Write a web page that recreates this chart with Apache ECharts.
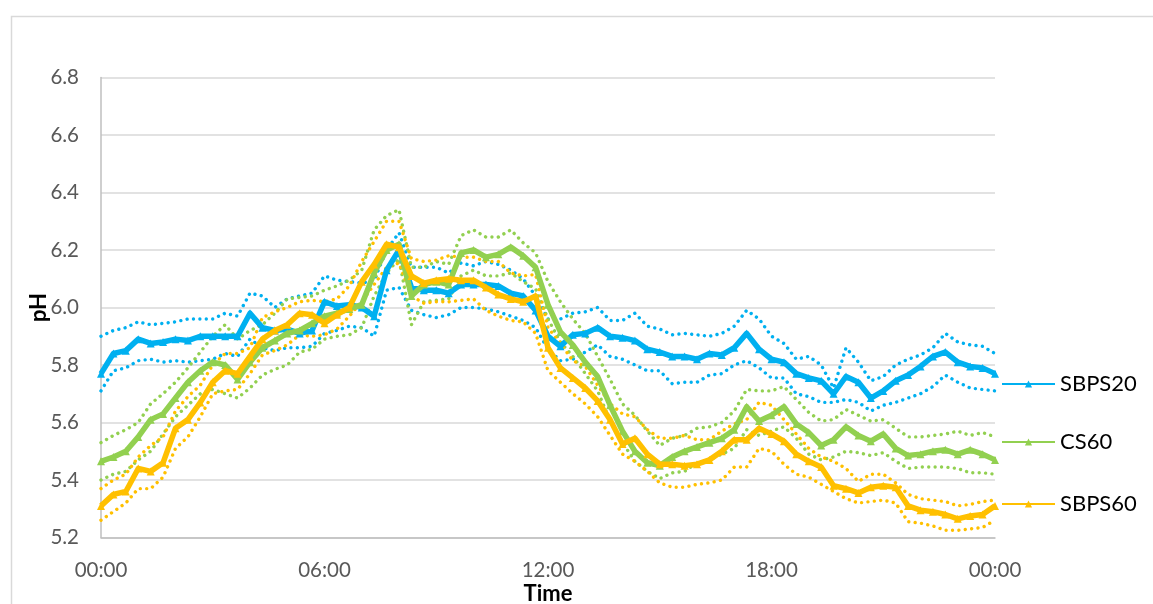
<!DOCTYPE html>
<html>
<head>
<meta charset="utf-8">
<script src="https://cdn.jsdelivr.net/npm/echarts@6/dist/echarts.min.js"></script>
<style>
  html, body { margin: 0; padding: 0; background: #fff; }
  #chart { width: 1153px; height: 604px; }
</style>
</head>
<body>
<div id="chart"></div>
<script>
// Sampling times over one day, every 20 minutes (24:00 is shown as 00:00)
const times = [
  '00:00','00:20','00:40','01:00','01:20','01:40','02:00','02:20','02:40','03:00','03:20','03:40',
  '04:00','04:20','04:40','05:00','05:20','05:40','06:00','06:20','06:40','07:00','07:20','07:40',
  '08:00','08:20','08:40','09:00','09:20','09:40','10:00','10:20','10:40','11:00','11:20','11:40',
  '12:00','12:20','12:40','13:00','13:20','13:40','14:00','14:20','14:40','15:00','15:20','15:40',
  '16:00','16:20','16:40','17:00','17:20','17:40','18:00','18:20','18:40','19:00','19:20','19:40',
  '20:00','20:20','20:40','21:00','21:20','21:40','22:00','22:20','22:40','23:00','23:20','23:40',
  '24:00'
];

const yTicks = { min: 5.2, max: 6.8, step: 0.2 };

// SBPS20: mean pH and the upper / lower spread lines
const sbps20 = [
  5.77, 5.84, 5.85, 5.89, 5.875, 5.88, 5.89, 5.885, 5.90, 5.90, 5.90, 5.90, 5.98,
  5.93, 5.92, 5.925, 5.91, 5.92, 6.02, 6.005, 6.01, 6.00, 5.97, 6.13, 6.20,
  6.07, 6.06, 6.06, 6.05, 6.08, 6.08, 6.08, 6.075, 6.05, 6.04, 5.99, 5.90,
  5.865, 5.905, 5.91, 5.93, 5.90, 5.895, 5.885, 5.855, 5.845, 5.83, 5.83, 5.82,
  5.84, 5.835, 5.86, 5.91, 5.855, 5.82, 5.81, 5.77, 5.755, 5.745, 5.70, 5.76,
  5.74, 5.685, 5.71, 5.745, 5.765, 5.795, 5.83, 5.845, 5.81, 5.795, 5.79, 5.77
];
const sbps20Upper = [
  5.90, 5.92, 5.93, 5.95, 5.94, 5.945, 5.95, 5.96, 5.96, 5.96, 5.98, 5.97, 6.05,
  6.04, 6.00, 6.03, 6.04, 6.05, 6.11, 6.095, 6.09, 6.085, 6.095, 6.20, 6.26,
  6.14, 6.14, 6.14, 6.12, 6.155, 6.145, 6.16, 6.15, 6.13, 6.10, 6.04, 5.96,
  5.96, 5.98, 5.985, 6.00, 5.955, 5.955, 5.98, 5.935, 5.925, 5.905, 5.91, 5.905,
  5.90, 5.91, 5.935, 5.99, 5.96, 5.90, 5.875, 5.82, 5.83, 5.80, 5.72, 5.86,
  5.81, 5.745, 5.76, 5.80, 5.82, 5.835, 5.86, 5.91, 5.88, 5.87, 5.865, 5.84
];
const sbps20Lower = [
  5.71, 5.78, 5.79, 5.815, 5.82, 5.81, 5.815, 5.81, 5.815, 5.82, 5.84, 5.83, 5.89,
  5.86, 5.85, 5.86, 5.86, 5.865, 5.91, 5.92, 5.935, 5.93, 5.90, 6.06, 6.07,
  5.99, 5.975, 5.965, 5.975, 6.00, 6.00, 5.995, 5.985, 5.97, 5.955, 5.93, 5.855,
  5.815, 5.82, 5.845, 5.87, 5.83, 5.82, 5.80, 5.78, 5.78, 5.735, 5.74, 5.74,
  5.765, 5.77, 5.80, 5.815, 5.79, 5.755, 5.755, 5.70, 5.69, 5.67, 5.67, 5.68,
  5.67, 5.64, 5.66, 5.67, 5.685, 5.70, 5.725, 5.765, 5.74, 5.72, 5.715, 5.71
];

// CS60
const cs60 = [
  5.465, 5.48, 5.50, 5.55, 5.61, 5.63, 5.685, 5.74, 5.78, 5.81, 5.80, 5.75, 5.81,
  5.86, 5.885, 5.91, 5.92, 5.945, 5.97, 5.98, 5.995, 6.01, 6.12, 6.20, 6.22,
  6.04, 6.08, 6.09, 6.08, 6.19, 6.20, 6.175, 6.185, 6.21, 6.18, 6.14, 6.01,
  5.915, 5.87, 5.81, 5.76, 5.66, 5.57, 5.50, 5.46, 5.45, 5.48, 5.50, 5.515,
  5.53, 5.545, 5.575, 5.655, 5.605, 5.625, 5.655, 5.595, 5.565, 5.52, 5.54, 5.585,
  5.555, 5.535, 5.56, 5.51, 5.485, 5.49, 5.50, 5.505, 5.49, 5.505, 5.49, 5.47
];
const cs60Upper = [
  5.53, 5.555, 5.575, 5.60, 5.665, 5.70, 5.74, 5.79, 5.845, 5.90, 5.94, 5.89, 5.92,
  5.94, 5.98, 6.03, 6.035, 6.04, 6.06, 6.075, 6.095, 6.13, 6.27, 6.32, 6.34,
  6.14, 6.14, 6.16, 6.15, 6.25, 6.27, 6.245, 6.245, 6.27, 6.225, 6.19, 6.09,
  6.02, 5.96, 5.91, 5.83, 5.75, 5.665, 5.625, 5.57, 5.52, 5.545, 5.555, 5.58,
  5.585, 5.60, 5.64, 5.715, 5.71, 5.71, 5.725, 5.68, 5.635, 5.605, 5.61, 5.645,
  5.625, 5.605, 5.61, 5.58, 5.55, 5.55, 5.555, 5.56, 5.57, 5.555, 5.565, 5.55
];
const cs60Lower = [
  5.40, 5.42, 5.43, 5.47, 5.50, 5.56, 5.62, 5.66, 5.70, 5.715, 5.70, 5.685, 5.72,
  5.765, 5.785, 5.80, 5.845, 5.855, 5.89, 5.90, 5.905, 5.93, 6.04, 6.12, 6.17,
  5.94, 6.02, 6.025, 6.03, 6.11, 6.13, 6.11, 6.11, 6.12, 6.09, 6.065, 5.96,
  5.88, 5.83, 5.77, 5.71, 5.605, 5.53, 5.465, 5.43, 5.405, 5.425, 5.43, 5.46,
  5.47, 5.49, 5.51, 5.575, 5.555, 5.57, 5.585, 5.545, 5.49, 5.47, 5.48, 5.50,
  5.495, 5.485, 5.495, 5.465, 5.44, 5.445, 5.445, 5.445, 5.44, 5.425, 5.425, 5.42
];

// SBPS60
const sbps60 = [
  5.31, 5.35, 5.36, 5.44, 5.43, 5.46, 5.58, 5.61, 5.67, 5.74, 5.78, 5.77, 5.83,
  5.89, 5.92, 5.94, 5.98, 5.975, 5.945, 5.975, 6.00, 6.09, 6.15, 6.22, 6.21,
  6.11, 6.085, 6.095, 6.10, 6.095, 6.095, 6.07, 6.045, 6.03, 6.02, 6.04, 5.86,
  5.79, 5.755, 5.72, 5.675, 5.61, 5.525, 5.545, 5.49, 5.455, 5.455, 5.45, 5.455,
  5.47, 5.50, 5.54, 5.54, 5.58, 5.56, 5.535, 5.49, 5.465, 5.445, 5.38, 5.37,
  5.355, 5.375, 5.38, 5.375, 5.31, 5.295, 5.29, 5.28, 5.265, 5.275, 5.28, 5.31
];
const sbps60Upper = [
  5.37, 5.40, 5.42, 5.48, 5.52, 5.55, 5.64, 5.69, 5.73, 5.80, 5.84, 5.84, 5.86,
  5.965, 5.985, 6.00, 6.02, 6.025, 6.02, 6.03, 6.075, 6.16, 6.23, 6.30, 6.30,
  6.17, 6.16, 6.165, 6.18, 6.175, 6.175, 6.16, 6.16, 6.12, 6.11, 6.115, 5.93,
  5.875, 5.815, 5.795, 5.73, 5.665, 5.63, 5.62, 5.575, 5.545, 5.545, 5.555, 5.54,
  5.54, 5.57, 5.595, 5.61, 5.67, 5.66, 5.61, 5.56, 5.51, 5.48, 5.465, 5.44,
  5.395, 5.42, 5.42, 5.39, 5.35, 5.335, 5.33, 5.325, 5.31, 5.315, 5.325, 5.33
];
const sbps60Lower = [
  5.26, 5.29, 5.32, 5.37, 5.37, 5.41, 5.51, 5.55, 5.62, 5.70, 5.71, 5.715, 5.77,
  5.835, 5.85, 5.87, 5.905, 5.90, 5.905, 5.925, 5.97, 6.02, 6.08, 6.14, 6.155,
  6.04, 6.015, 6.02, 6.02, 6.025, 6.03, 5.99, 5.97, 5.955, 5.95, 5.91, 5.78,
  5.74, 5.70, 5.665, 5.62, 5.555, 5.49, 5.465, 5.43, 5.39, 5.375, 5.375, 5.385,
  5.39, 5.40, 5.445, 5.445, 5.51, 5.50, 5.455, 5.42, 5.41, 5.385, 5.36, 5.335,
  5.32, 5.325, 5.33, 5.32, 5.255, 5.25, 5.24, 5.225, 5.225, 5.23, 5.235, 5.26
];

const seriesInfo = [
  { name: 'SBPS20', color: '#00B0F0', mean: sbps20, upper: sbps20Upper, lower: sbps20Lower },
  { name: 'CS60',   color: '#92D050', mean: cs60,   upper: cs60Upper,   lower: cs60Lower },
  { name: 'SBPS60', color: '#FFC000', mean: sbps60, upper: sbps60Upper, lower: sbps60Lower }
];

const FONT = 'Lato, "Open Sans", sans-serif';

// Round-dot line for the spread above / below each mean
function spreadLine(name, color, values) {
  return {
    name: name,
    type: 'line',
    data: values,
    symbol: 'none',
    silent: true,
    z: 2,
    lineStyle: { color: color, width: 3.4, type: [0.01, 6.4], cap: 'round', join: 'round' }
  };
}

function meanLine(info, z) {
  return {
    name: info.name,
    type: 'line',
    data: info.mean,
    symbol: 'triangle',
    symbolSize: 8,
    showSymbol: true,
    z: z,
    itemStyle: { color: info.color, borderWidth: 0 },
    lineStyle: { color: info.color, width: 5.5, join: 'round' }
  };
}

const series = [];
seriesInfo.forEach(function (s) {
  series.push(spreadLine(s.name + ' +', s.color, s.upper));
  series.push(spreadLine(s.name + ' -', s.color, s.lower));
});
seriesInfo.forEach(function (s, i) { series.push(meanLine(s, 3 + i)); });

const legendTops = [373, 431, 493];
const legends = seriesInfo.map(function (s, i) {
  return {
    data: [s.name],
    left: 1001,
    top: legendTops[i],
    padding: 0,
    itemWidth: 53,
    itemHeight: 9,
    itemGap: 0,
    textStyle: { fontFamily: FONT, fontSize: 22, color: '#000' },
    selectedMode: false
  };
});

const chart = echarts.init(document.getElementById('chart'), null, { renderer: 'canvas' });
chart.setOption({
  animation: false,
  backgroundColor: '#fff',
  grid: {
    left: 101, right: 158, top: 77.5, bottom: 66.5,
    containLabel: false,
    outerBoundsMode: 'none'
  },
  legend: legends,
  graphic: [{
    type: 'rect',
    shape: { x: 11.5, y: 16.5, width: 1300, height: 800 },
    style: { fill: 'none', stroke: '#d9d9d9', lineWidth: 1.5 },
    silent: true
  }],
  xAxis: {
    type: 'category',
    data: times,
    boundaryGap: false,
    name: 'Time',
    nameLocation: 'middle',
    nameGap: 45,
    nameMoveOverlap: false,
    nameTextStyle: { fontFamily: FONT, fontSize: 22, fontWeight: 'bold', color: '#000' },
    axisLine: { lineStyle: { color: '#bfbfbf', width: 1.5 } },
    axisTick: { show: false },
    axisLabel: {
      interval: 17,
      margin: 22,
      fontFamily: FONT, fontSize: 20.5, color: '#595959',
      formatter: function (v) { return v === '24:00' ? '00:00' : v; }
    },
    splitLine: { show: false }
  },
  yAxis: {
    type: 'value',
    min: yTicks.min,
    max: yTicks.max,
    interval: yTicks.step,
    name: 'pH',
    nameLocation: 'middle',
    nameGap: 51,
    nameMoveOverlap: false,
    nameTextStyle: { fontFamily: FONT, fontSize: 22, fontWeight: 'bold', color: '#000' },
    axisLine: { show: true, lineStyle: { color: '#bfbfbf', width: 1.5 } },
    axisTick: { show: false },
    axisLabel: {
      margin: 22,
      fontFamily: FONT, fontSize: 20.5, color: '#595959',
      formatter: function (v) { return v.toFixed(1); }
    },
    splitLine: { lineStyle: { color: '#d9d9d9', width: 1.5 } }
  },
  series: series
});
</script>
</body>
</html>
